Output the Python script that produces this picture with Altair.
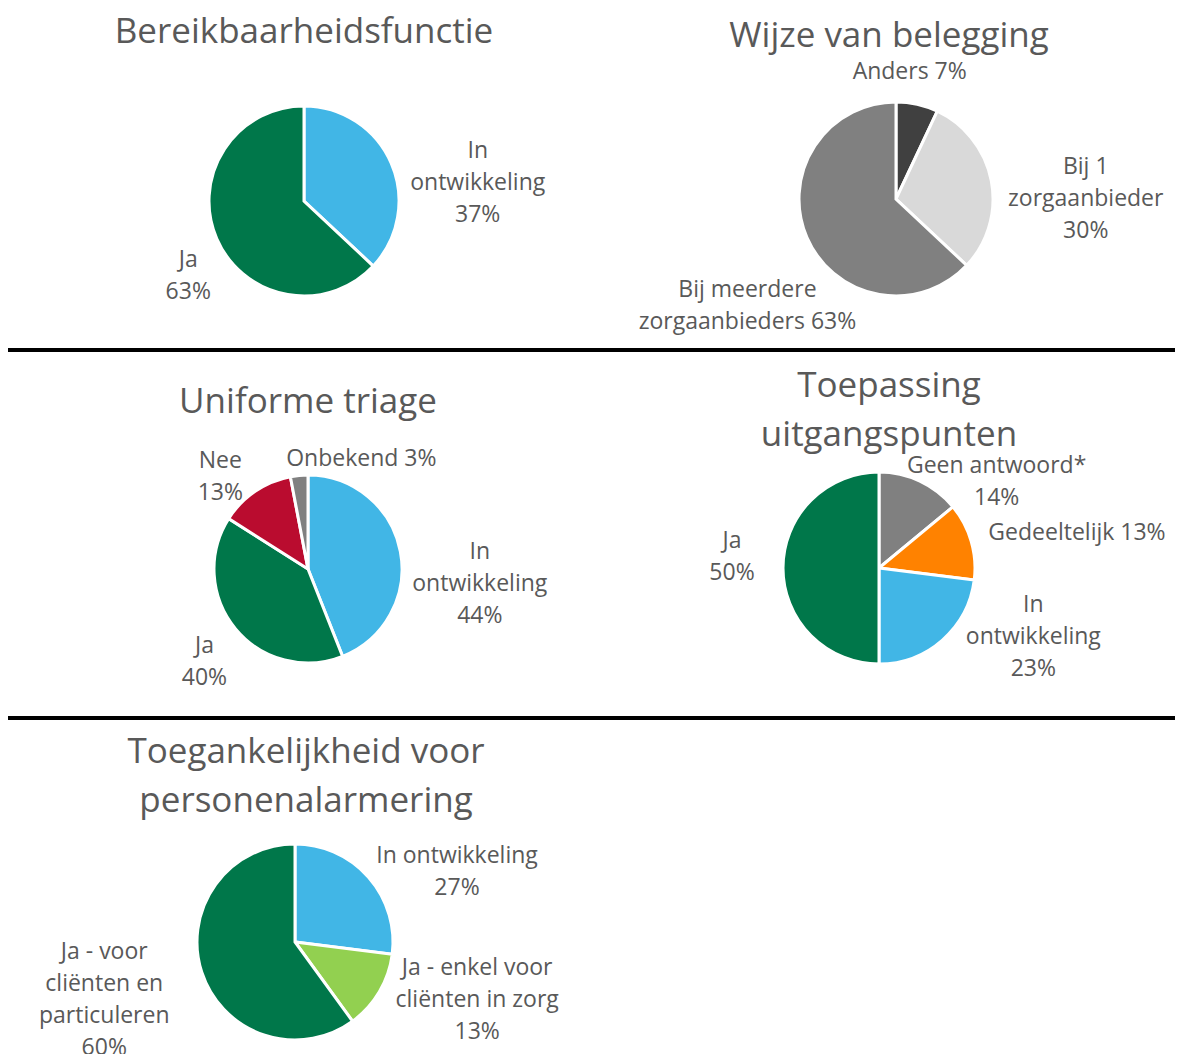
import altair as alt
import pandas as pd

# ---------------- data ----------------
titles = [
    "Bereikbaarheidsfunctie",
    "Wijze van belegging",
    "Uniforme triage",
    "Toepassing\nuitgangspunten",
    "Toegankelijkheid voor\npersonenalarmering",
]

p1_cat = ["In ontwikkeling", "Ja"]
p1_val = [37, 63]
p1_lab = ["In\nontwikkeling\n37%", "Ja\n63%"]

p2_cat = ["Anders", "Bij 1 zorgaanbieder", "Bij meerdere zorgaanbieders"]
p2_val = [7, 30, 63]
p2_lab = ["Anders 7%", "Bij 1\nzorgaanbieder\n30%", "Bij meerdere\nzorgaanbieders 63%"]

p3_cat = ["In ontwikkeling", "Ja", "Nee", "Onbekend"]
p3_val = [44, 40, 13, 3]
p3_lab = ["In\nontwikkeling\n44%", "Ja\n40%", "Nee\n13%", "Onbekend 3%"]

p4_cat = ["Geen antwoord*", "Gedeeltelijk", "In ontwikkeling", "Ja"]
p4_val = [14, 13, 23, 50]
p4_lab = ["Geen antwoord*\n14%", "Gedeeltelijk 13%", "In\nontwikkeling\n23%", "Ja\n50%"]

p5_cat = ["In ontwikkeling", "Ja - enkel voor cliënten in zorg", "Ja - voor cliënten en particuleren"]
p5_val = [27, 13, 60]
p5_lab = ["In ontwikkeling\n27%", "Ja - enkel voor\ncliënten in zorg\n13%",
          "Ja - voor\ncliënten en\nparticuleren\n60%"]

color_domain = ["In ontwikkeling", "Ja", "Anders", "Bij 1 zorgaanbieder",
                "Bij meerdere zorgaanbieders", "Nee", "Onbekend", "Geen antwoord*",
                "Gedeeltelijk", "Ja - enkel voor cliënten in zorg",
                "Ja - voor cliënten en particuleren"]
color_range = ["#41B6E6", "#00774A", "#404040", "#D9D9D9", "#808080", "#BA0C2F",
               "#808080", "#808080", "#FF8200", "#92D050", "#00774A"]

# ---------------- layout / style ----------------
FONT = "Open Sans"
TXT = "#595959"
W, H = 1167, 1046
LBL_FS, LBL_LH = 23, 32
TTL_FS, TTL_LH = 35, 49

pies = [
    dict(cat=p1_cat, val=p1_val, lab=p1_lab, cx=296, cy=193, r=95,
         nudge=[(59, 0), (-1, 9)]),
    dict(cat=p2_cat, val=p2_val, lab=p2_lab, cx=888, cy=191, r=97,
         nudge=[(-14, -3), (65, -8), (-32, 41)]),
    dict(cat=p3_cat, val=p3_val, lab=p3_lab, cx=300, cy=561, r=94,
         nudge=[(50, 6), (-8, -2), (-18, -5), (65, 13)]),
    dict(cat=p4_cat, val=p4_val, lab=p4_lab, cx=871, cy=560, r=96,
         nudge=[(64, 12), (77, 0), (71, -58), (-21, -27)]),
    dict(cat=p5_cat, val=p5_val, lab=p5_lab, cx=287, cy=934, r=98,
         nudge=[(66, -1), (72, -39), (-69, -30)]),
]
title_pos = [(296, 24), (881, 28), (300, 394), (881, 378), (298, 744)]
rule_y = [342, 710]

theta_scale = alt.Scale(domain=[0, 100])
color_scale = alt.Scale(domain=color_domain, range=color_range)

layers = []

for p in pies:
    df = pd.DataFrame({"cat": p["cat"], "val": p["val"], "lab": p["lab"],
                       "ord": list(range(len(p["cat"])))})
    arcs = alt.Chart(df).mark_arc(radius=p["r"], stroke="white", strokeWidth=3).encode(
        x=alt.value(p["cx"]),
        y=alt.value(p["cy"]),
        theta=alt.Theta("val:Q", stack=True, scale=theta_scale),
        color=alt.Color("cat:N", scale=color_scale, legend=None),
        order=alt.Order("ord:Q"),
    )
    layers.append(arcs)
    for i, (dx, dy) in enumerate(p["nudge"]):
        txt = (
            alt.Chart(df)
            .transform_window(cum="sum(val)", sort=[alt.SortField("ord")], frame=[None, 0])
            .transform_calculate(mid="datum.cum - datum.val / 2")
            .transform_filter(f"datum.ord == {i}")
            .mark_text(radius=p["r"] + 30, dx=dx, dy=dy,
                       align="center", baseline="middle", lineBreak="\n",
                       font=FONT, fontSize=LBL_FS, lineHeight=LBL_LH, color=TXT)
            .encode(
                x=alt.value(p["cx"]),
                y=alt.value(p["cy"]),
                theta=alt.Theta("mid:Q", stack=False, scale=theta_scale),
                text="lab:N",
            )
        )
        layers.append(txt)

for t, (tx, ty) in zip(titles, title_pos):
    layers.append(
        alt.Chart(pd.DataFrame({"t": [t]}))
        .mark_text(align="center", baseline="middle", lineBreak="\n", font=FONT,
                   fontSize=TTL_FS, lineHeight=TTL_LH, color=TXT)
        .encode(x=alt.value(tx), y=alt.value(ty), text="t:N")
    )

for ry in rule_y:
    layers.append(
        alt.Chart(pd.DataFrame({"k": [0]}))
        .mark_rule(color="black", strokeWidth=4)
        .encode(x=alt.value(0), x2=alt.value(W), y=alt.value(ry))
    )

chart = (
    alt.layer(*layers)
    .properties(width=W, height=H, padding=0, autosize=alt.AutoSizeParams(type="none"))
    .configure_view(strokeWidth=0)
)

chart.save("out.html", embed_options={"renderer": "svg", "actions": False})
